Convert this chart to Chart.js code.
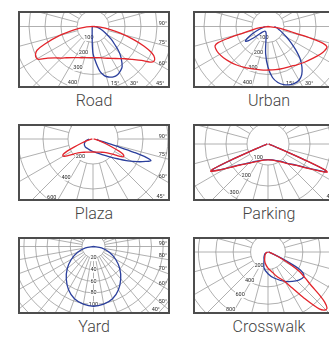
<!DOCTYPE html>
<html><head><meta charset="utf-8">
<script src="https://cdn.jsdelivr.net/npm/chart.js@4.4.1/dist/chart.umd.min.js"></script>
<style>
body{margin:0;background:#fff;width:329px;height:340px;overflow:hidden;position:relative;font-family:Roboto,sans-serif}
.box{position:absolute;width:152px;height:77px}
.box canvas{display:block}
.title{position:absolute;width:152px;text-align:center;font-family:Roboto,sans-serif;font-weight:300;font-size:16px;line-height:18px;color:#444}
</style></head><body>

<div class="box" style="left:18px;top:11px"><canvas id="road" width="152" height="77"></canvas></div>
<div class="title" style="left:18px;top:92px">Road</div>
<div class="box" style="left:193px;top:11px"><canvas id="urban" width="152" height="77"></canvas></div>
<div class="title" style="left:193px;top:92px">Urban</div>
<div class="box" style="left:18px;top:124px"><canvas id="plaza" width="152" height="77"></canvas></div>
<div class="title" style="left:18px;top:205px">Plaza</div>
<div class="box" style="left:193px;top:124px"><canvas id="parking" width="152" height="77"></canvas></div>
<div class="title" style="left:193px;top:205px">Parking</div>
<div class="box" style="left:18px;top:237px"><canvas id="yard" width="152" height="77"></canvas></div>
<div class="title" style="left:18px;top:318px">Yard</div>
<div class="box" style="left:193px;top:237px"><canvas id="crosswalk" width="152" height="77"></canvas></div>
<div class="title" style="left:193px;top:318px">Crosswalk</div>

<script>
// ---------- data (intensity in cd/klm, angle in degrees from nadir) ----------
const roadRedAngles = [-90,-85,-80,-75,-70,-67,-64,-61,-59,-55,-50,-45,-40,-30,-20,-10,0,10,20,30,40,45,50,55,58,60,63,66,69,72,76,80,85,90];
const roadRedValues = [0,55,120,215,320,380,400,405,398,345,305,280,255,225,208,198,194,198,210,230,262,285,320,370,420,438,432,400,340,270,180,110,45,0];
const roadBlueAngles = [-90,-60,-30,-15,-10,-5,-2,0,3,6,9,13,17,22,27,32,36,42,46,50,55,63,70,80,90];
const roadBlueValues = [0,5,10,20,30,60,120,170,205,245,285,315,330,340,338,325,310,262,225,180,140,85,55,25,5];
const roadRings = [100,200,300,400,500,600,700];
const roadRingLabels = [100,200,300,400];
const roadAngleLabels = [90,75,60,45,30,15];

const urbanRedAngles = [-90,-82,-78,-75,-73.5,-72,-70,-67,-62,-55,-46,-40,-30,-20,-10,0,10,20,30,37,45,55,62,67,71,73,74.5,76,79,83,90];
const urbanRedValues = [0,50,100,170,260,330,352,355,352,340,323,312,295,282,275,272,274,278,287,300,318,345,370,385,390,360,280,190,110,55,0];
const urbanBlueAngles = [-90,-80,-72,-65,-60,-57,-54,-50,-45,-35,-25,-15,-10,-5,0,5,10,15,20,25,30,35,40,45,50,55,60,70,80,90];
const urbanBlueValues = [15,30,60,110,150,168,150,90,50,35,35,45,70,170,255,320,355,376,388,392,388,368,330,283,225,175,135,85,60,40];
const urbanRings = [100,200,300,400,500,600,700];
const urbanRingLabels = [100,200,300,400];
const urbanAngleLabels = [90,75,60,45,30,15];

const plazaRedAngles = [-90,-80,-75,-70,-67,-65,-63,-61,-59,-56,-52,-47,-40,-30,-15,0,15,30,40,47,52,56,59,61,63,65,67,70,75,80,90];
const plazaRedValues = [5,25,50,100,165,225,265,276,268,235,195,164,140,122,108,104,108,122,140,166,198,240,278,282,270,230,168,100,50,25,5];
const plazaBlueAngles = [-90,-75,-60,-45,-30,-15,0,15,30,43,52,58,63,67,69.5,71,72,73,74,76,80,90];
const plazaBlueValues = [30,60,80,88,88,92,100,115,145,195,260,330,400,460,495,450,350,220,120,60,35,30];
const plazaRings = [200,400,600,800,1000];
const plazaRingLabels = [200,400,600];
const plazaAngleLabels = [90,75,60,45];

const parkingAngles = [-90,-75,-69,-67.5,-66.5,-65.5,-64.5,-62,-58,-53,-45,-38,-30,-15,0,15,30,38,45,53,58,62,64.5,65.5,66.5,67.5,69,75,90];
const parkingRedValues = [3,10,40,100,200,290,302,265,210,167,130,109,95,80,76,80,95,109,132,170,215,270,312,300,205,100,40,10,3];
const parkingBlueValues = [3,10,38,95,195,285,298,262,207,164,128,107,93,78,74,78,93,107,130,167,212,266,308,296,200,95,38,10,3];
const parkingRings = [100,200,300,400,500,600];
const parkingRingLabels = [100,200,300];
const parkingAngleLabels = [90,75,60,45];

const yardAngles = [-90,-80,-70,-60,-50,-40,-30,-20,-10,0,10,20,30,40,50,60,70,80,90];
const yardBlueValues = [0,14,29,44,59,73,86,96,101,103,101,96,86,73,59,44,29,14,0];
const yardRings = [20,40,60,80,100,120,140,160,180,200];
const yardRingLabels = [20,40,60,80,100];
const yardAngleLabels = [90,80,70,60,50,40];

const crosswalkRedAngles = [-90,-60,-40,-20,-9,0,9,20,29,34,38,42,44.5,46.5,48.5,50,52,55,58,61,64,68,75,90];
const crosswalkRedValues = [5,30,55,110,150,185,221,300,380,500,670,880,935,935,870,780,640,520,430,300,170,70,25,5];
const crosswalkBlueAngles = [-90,-60,-38,-27,-14,0,13,30,44,52,56,59,61.5,63,65,68,75,90];
const crosswalkBlueValues = [5,40,75,100,190,250,307,390,463,495,497,470,400,300,180,80,25,5];
const crosswalkRings = [200,400,600,800,1000,1200];
const crosswalkRingLabels = [200,400,600,800];
const crosswalkAngleLabels = [90,75,60,45];

// ---------- drawing ----------
const DEG = Math.PI / 180;
const RED = '#e3242b', BLUE = '#2b3f9c';
function curve(angles, values) {
  return angles.map((a, i) => ({ x: values[i] * Math.sin(a * DEG), y: -values[i] * Math.cos(a * DEG) }));
}

const polarGrid = {
  id: 'polarGrid',
  beforeDatasetsDraw(chart, args, o) {
    const { ctx, chartArea: a, scales: { x, y } } = chart;
    const cx = x.getPixelForValue(0), cy = y.getPixelForValue(0);
    const rad = v => x.getPixelForValue(v) - cx;
    ctx.save();
    ctx.beginPath(); ctx.rect(a.left, a.top, a.right - a.left, a.bottom - a.top); ctx.clip();
    ctx.strokeStyle = '#9c9c9c'; ctx.lineWidth = 0.8;
    o.rings.forEach(v => { ctx.beginPath(); ctx.arc(cx, cy, rad(v), 0, 2 * Math.PI); ctx.stroke(); });
    const r0 = rad(o.rings[0]);
    for (let d = 0; d < 360; d += o.rayStep) {
      const t = d * DEG, sx = Math.sin(t), sy = Math.cos(t);
      ctx.beginPath(); ctx.moveTo(cx + r0 * sx, cy + r0 * sy); ctx.lineTo(cx + 2000 * sx, cy + 2000 * sy); ctx.stroke();
    }
    ctx.font = '5.5px Roboto, sans-serif';
    ctx.fillStyle = '#2a2a2a';
    ctx.textBaseline = 'middle'; ctx.textAlign = 'center';
    o.ringLabels.forEach(v => {
      const t = -o.labelAngle * DEG, r = rad(v) - o.labelInset;
      const px = cx + r * Math.sin(t), py = cy + r * Math.cos(t);
      const w = ctx.measureText(String(v)).width;
      ctx.fillStyle = '#fff'; ctx.fillRect(px - w / 2 - 0.5, py - 3, w + 1, 6);
      ctx.fillStyle = '#2a2a2a'; ctx.fillText(String(v), px, py);
    });
    ctx.textBaseline = 'alphabetic';
    o.angleLabels.forEach(d => {
      const t = d * DEG, sx = Math.sin(t), sy = Math.cos(t);
      const txt = d + '°', w = ctx.measureText(txt).width;
      const tR = (a.right - cx) / sx, tB = sy > 1e-6 ? (a.bottom - cy) / sy : Infinity;
      if (tR <= tB) {
        const lx = a.right - 3 - w / 2;
        const ly = cy + (lx - cx) / sx * sy;
        ctx.textAlign = 'right';
        ctx.fillText(txt, a.right - 3, ly - 1.5);
      } else {
        let lx = cx + tB * sx + 1.5;
        lx = Math.min(lx, a.right - 3 - w);
        ctx.textAlign = 'left';
        ctx.fillText(txt, lx, a.bottom - 3);
      }
    });
    ctx.restore();
  },
  afterDraw(chart) {
    const { ctx, chartArea: a } = chart;
    ctx.save();
    ctx.strokeStyle = '#4d4d4d'; ctx.lineWidth = 2;
    ctx.strokeRect(a.left + 1, a.top + 1, a.right - a.left - 2, a.bottom - a.top - 2);
    ctx.restore();
  }
};

function makePanel(id, cfg) {
  const canvas = document.getElementById(id);
  const W = canvas.width, H = canvas.height, s = cfg.scale;
  new Chart(canvas, {
    type: 'scatter',
    data: {
      datasets: cfg.series.map(sr => ({
        data: curve(sr.angles, sr.values), borderColor: sr.color, backgroundColor: sr.color,
        borderWidth: 1.3, showLine: true, pointRadius: 0, tension: 0.3, fill: false
      }))
    },
    options: {
      responsive: false, animation: false, events: [],
      layout: { padding: 0 },
      plugins: {
        legend: { display: false }, tooltip: { enabled: false },
        polarGrid: { rings: cfg.rings, ringLabels: cfg.ringLabels, angleLabels: cfg.angleLabels,
                     rayStep: cfg.rayStep, labelAngle: cfg.labelAngle, labelInset: cfg.labelInset }
      },
      scales: {
        x: { type: 'linear', display: false, min: -cfg.cx / s, max: (W - cfg.cx) / s },
        y: { type: 'linear', display: false, min: -(H - cfg.cy) / s, max: cfg.cy / s }
      }
    },
    plugins: [polarGrid]
  });
}

makePanel('road', { cx: 75, cy: 15.5, scale: 0.16, rayStep: 15, labelAngle: 20, labelInset: 4,
  rings: roadRings, ringLabels: roadRingLabels, angleLabels: roadAngleLabels,
  series: [{ angles: roadRedAngles, values: roadRedValues, color: RED }, { angles: roadBlueAngles, values: roadBlueValues, color: BLUE }] });
makePanel('urban', { cx: 75, cy: 15.5, scale: 0.16, rayStep: 15, labelAngle: 20, labelInset: 4,
  rings: urbanRings, ringLabels: urbanRingLabels, angleLabels: urbanAngleLabels,
  series: [{ angles: urbanRedAngles, values: urbanRedValues, color: RED }, { angles: urbanBlueAngles, values: urbanBlueValues, color: BLUE }] });
makePanel('plaza', { cx: 75, cy: 15, scale: 0.125, rayStep: 15, labelAngle: 35, labelInset: 3,
  rings: plazaRings, ringLabels: plazaRingLabels, angleLabels: plazaAngleLabels,
  series: [{ angles: plazaRedAngles, values: plazaRedValues, color: RED }, { angles: plazaBlueAngles, values: plazaBlueValues, color: BLUE }] });
makePanel('parking', { cx: 75, cy: 20, scale: 0.21, rayStep: 15, labelAngle: 35, labelInset: 4,
  rings: parkingRings, ringLabels: parkingRingLabels, angleLabels: parkingAngleLabels,
  series: [{ angles: parkingAngles, values: parkingRedValues, color: RED }, { angles: parkingAngles, values: parkingBlueValues, color: BLUE }] });
makePanel('yard', { cx: 75.5, cy: 9.5, scale: 0.58, rayStep: 10, labelAngle: 0, labelInset: 0,
  rings: yardRings, ringLabels: yardRingLabels, angleLabels: yardAngleLabels,
  series: [{ angles: yardAngles, values: yardBlueValues, color: BLUE }] });
makePanel('crosswalk', { cx: 75, cy: 15, scale: 0.087, rayStep: 15, labelAngle: 33, labelInset: 1,
  rings: crosswalkRings, ringLabels: crosswalkRingLabels, angleLabels: crosswalkAngleLabels,
  series: [{ angles: crosswalkRedAngles, values: crosswalkRedValues, color: RED }, { angles: crosswalkBlueAngles, values: crosswalkBlueValues, color: BLUE }] });
</script>
</body></html>
